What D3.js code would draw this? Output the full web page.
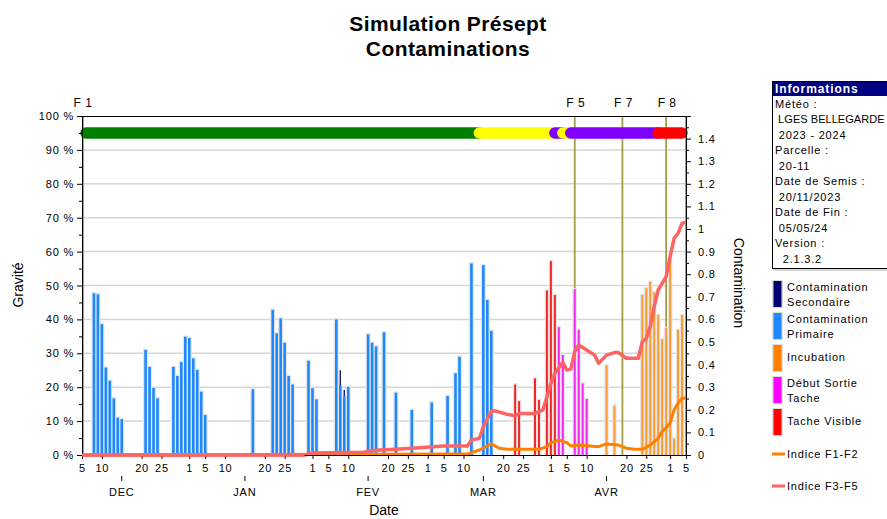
<!DOCTYPE html>
<html><head><meta charset="utf-8">
<script src="https://cdn.jsdelivr.net/npm/d3@7"></script>
<style>
body{margin:0;background:#fff;}
svg{display:block;font-family:"Liberation Sans",Arial,sans-serif;}
</style>
</head><body>
<svg id="c" width="887" height="519"></svg>
<script>
// ---------------- DATA ----------------
const titleLines = ["Simulation Présept", "Contaminations"];
const yLeftTitle = "Gravité", yRightTitle = "Contamination", xTitle = "Date";

// Contamination Primaire (%)
const primDates = ["2023-12-08","2023-12-09","2023-12-10","2023-12-11","2023-12-12","2023-12-13","2023-12-14","2023-12-15",
  "2023-12-21","2023-12-22","2023-12-23","2023-12-24","2023-12-28","2023-12-29","2023-12-30","2023-12-31",
  "2024-01-01","2024-01-02","2024-01-03","2024-01-04","2024-01-05","2024-01-17","2024-01-22","2024-01-23",
  "2024-01-24","2024-01-25","2024-01-26","2024-01-27","2024-01-31","2024-02-01","2024-02-02","2024-02-07",
  "2024-02-08","2024-02-09","2024-02-10","2024-02-15","2024-02-16","2024-02-17","2024-02-19","2024-02-22",
  "2024-02-26","2024-03-02","2024-03-06","2024-03-08","2024-03-09","2024-03-12","2024-03-15","2024-03-16","2024-03-17"];
const primValues = [47.7,47.4,38.6,25.8,21.9,16.7,11.0,10.6,
  31.0,26.0,19.8,16.7,26.0,23.3,27.4,34.9,
  34.5,28.5,25.1,18.7,11.8,19.4,42.8,35.9,
  40.3,33.1,23.3,20.8,27.8,19.7,16.4,40.0,
  20.4,17.2,20.1,35.6,33.1,32.0,36.2,18.4,
  13.3,15.5,17.4,24.1,29.0,56.5,56.0,45.7,36.6];
// Contamination Secondaire (%), stacked on primaire
const secDates = ["2024-02-08","2024-02-09"];
const secValues = [4.6, 2.0];
// Tache Visible (%)
const visDates = ["2024-03-23","2024-03-24","2024-03-28","2024-03-29","2024-03-31","2024-04-01","2024-04-02"];
const visValues = [20.8,15.9,22.6,16.2,48.5,57.2,47.2];
// Début Sortie Tache (%)
const dstDates = ["2024-04-03","2024-04-04","2024-04-07","2024-04-08","2024-04-09","2024-04-10"];
const dstValues = [37.7,29.5,48.9,36.9,21.1,16.5];
// Incubation (%)
const incDates = ["2024-04-15","2024-04-17","2024-04-24","2024-04-25","2024-04-26","2024-04-27","2024-04-28",
  "2024-04-29","2024-04-30","2024-05-01","2024-05-02","2024-05-03","2024-05-04"];
const incValues = [26.5,14.5,47.2,49.2,51.1,48.0,41.3,34.1,37.5,57.5,4.9,36.9,41.3];

// Indice F1-F2 (right axis)
const f12Dates = ["2023-12-05","2024-03-11","2024-03-12","2024-03-14","2024-03-17","2024-03-19","2024-03-21","2024-03-29",
  "2024-03-31","2024-04-01","2024-04-03","2024-04-05","2024-04-06","2024-04-08","2024-04-13","2024-04-15","2024-04-18",
  "2024-04-20","2024-04-22","2024-04-24","2024-04-26","2024-04-28","2024-04-29","2024-05-01","2024-05-02","2024-05-03",
  "2024-05-04","2024-05-05"];
const f12Values = [0,0.004,0.01,0.022,0.049,0.03,0.025,0.025,
  0.037,0.054,0.066,0.055,0.04,0.044,0.037,0.049,0.044,
  0.03,0.025,0.025,0.044,0.074,0.103,0.14,0.2,0.229,
  0.251,0.251];
// Indice F3-F5 (right axis)
const f35Dates = ["2023-12-05","2024-01-30","2024-02-01","2024-02-14","2024-02-16","2024-02-26","2024-03-05","2024-03-11",
  "2024-03-12","2024-03-14","2024-03-15","2024-03-17","2024-03-18","2024-03-21","2024-03-23","2024-03-24","2024-03-28",
  "2024-03-30","2024-03-31","2024-04-01","2024-04-02","2024-04-04","2024-04-05","2024-04-06","2024-04-07","2024-04-08",
  "2024-04-10","2024-04-12","2024-04-13","2024-04-15","2024-04-17","2024-04-18","2024-04-20","2024-04-23","2024-04-24",
  "2024-04-25","2024-04-26","2024-04-27","2024-04-28","2024-04-30","2024-05-01","2024-05-02","2024-05-03","2024-05-04","2024-05-05"];
const f35Values = [0,0,0.009,0.012,0.02,0.03,0.04,0.04,
  0.066,0.074,0.125,0.195,0.195,0.18,0.174,0.184,0.184,
  0.2,0.258,0.317,0.361,0.41,0.376,0.38,0.457,0.487,
  0.465,0.442,0.406,0.442,0.453,0.453,0.428,0.428,0.501,
  0.516,0.568,0.656,0.73,0.789,0.877,0.959,0.981,1.025,1.03];

// Phase band
const phaseStarts = ["2023-12-06","2024-03-14","2024-04-02","2024-04-04","2024-04-06","2024-04-28"];
const phaseEnds   = ["2024-03-14","2024-04-02","2024-04-04","2024-04-06","2024-04-28","2024-05-04"];
const phaseColors = ["#008000","#ffff00","#8000ff","#ffff00","#8000ff","#ff0000"];
const phaseLevel = 95;

// Stages
const stageNames = ["F 1","F 5","F 7","F 8",""];
const stageDates = ["2023-12-05","2024-04-07","2024-04-19","2024-04-30","2024-05-05"];

// Axes
const xStart = "2023-12-05", xEnd = "2024-05-05";
const tickDays = [1,5,10,20,25];
const monthLabels = ["DEC","JAN","FEV","MAR","AVR"];
const monthMid = ["2023-12-15","2024-01-15","2024-02-15","2024-03-15","2024-04-15"];
const leftTicks = [0,10,20,30,40,50,60,70,80,90,100];
const rightTicks = [0,0.1,0.2,0.3,0.4,0.5,0.6,0.7,0.8,0.9,1,1.1,1.2,1.3,1.4];

// Info panel
const infoTitle = "Informations";
const infoLines = ["Météo :"," LGES BELLEGARDE"," 2023 - 2024","Parcelle :"," 20-11","Date de Semis :"," 20/11/2023","Date de Fin :"," 05/05/24","Version :","  2.1.3.2"];
// Legend
const legendBarLabels = [["Contamination","Secondaire"],["Contamination","Primaire"],["Incubation"],["Début Sortie","Tache"],["Tache Visible"]];
const legendBarColors = ["#000070","#1e88ff","#ff8000","#ff00ff","#ff0000"];
const legendLineLabels = ["Indice F1-F2","Indice F3-F5"];
const legendLineColors = ["#ff8000","#ff6464"];

// ---------------- DRAW ----------------
const parse = d3.utcParse("%Y-%m-%d");
const svg = d3.select("#c");
const L = 82, R = 686, T = 116, B = 455;
const x = d3.scaleUtc().domain([parse(xStart), parse(xEnd)]).range([L, R]);
const yL = d3.scaleLinear().domain([0,100]).range([B, T]);
const yR = d3.scaleLinear().domain([0,1.5]).range([B, T]);
const olive = "#a39d48";
const fs = "11px", ls = "0.8px";

// Title
svg.selectAll("text.title").data(titleLines).join("text")
  .attr("x", 448).attr("y", (d,i)=>31+i*25).attr("text-anchor","middle")
  .attr("font-size","21px").attr("font-weight","bold").style("letter-spacing","0.4px").text(d=>d);

// gridlines
svg.append("g").selectAll("line").data(leftTicks.filter(v=>v>0 && v<100)).join("line")
  .attr("x1",L).attr("x2",R).attr("y1",d=>yL(d)).attr("y2",d=>yL(d))
  .attr("stroke","#d6d6d6").attr("stroke-width",1.5);

// stage lines
const stages = stageDates.map((d,i)=>({date:parse(d), name:stageNames[i]}));
svg.append("g").selectAll("line").data(stages).join("line")
  .attr("x1",d=>x(d.date)+(d.name==="F 1"?1:0)).attr("x2",d=>x(d.date)+(d.name==="F 1"?1:0))
  .attr("y1",T).attr("y2",B).attr("stroke",olive).attr("stroke-width",1.8);
svg.append("g").selectAll("text").data(stages.filter(s=>s.name)).join("text")
  .attr("x",d=>x(d.date)+1).attr("y",107).attr("text-anchor","middle")
  .attr("font-size","12px").style("letter-spacing","0.5px").text(d=>d.name);

// bars
const bars = [];
primDates.forEach((d,i)=>bars.push({date:parse(d), v0:0, v1:primValues[i], color:"#1e88ff", w:2.6}));
secDates.forEach((d,i)=>{
  const base = primValues[primDates.indexOf(d)];
  bars.push({date:parse(d), v0:base, v1:base+secValues[i], color:"#1a1a80", w:1.4});
});
visDates.forEach((d,i)=>bars.push({date:parse(d), v0:0, v1:visValues[i], color:"#f02828", w:2}));
dstDates.forEach((d,i)=>bars.push({date:parse(d), v0:0, v1:dstValues[i], color:"#f028f0", w:2}));
incDates.forEach((d,i)=>bars.push({date:parse(d), v0:0, v1:incValues[i], color:"#ff9a30", w:2}));

const gb = svg.append("g");
gb.selectAll("rect.halo").data(bars.filter(b=>b.v0===0)).join("rect").attr("class","halo")
  .attr("x",d=>x(d.date)-d.w/2-1.3).attr("width",d=>d.w+2.6)
  .attr("y",d=>yL(d.v1)-1.3).attr("height",d=>yL(d.v0)-yL(d.v1)+1.3)
  .attr("fill","#e6e6e6");
gb.selectAll("rect.bar").data(bars).join("rect").attr("class","bar")
  .attr("x",d=>x(d.date)-d.w/2).attr("width",d=>d.w)
  .attr("y",d=>yL(d.v1)).attr("height",d=>yL(d.v0)-yL(d.v1))
  .attr("fill",d=>d.color);

// index lines
const line = d3.line().x(d=>x(d.date)).y(d=>yR(d.v));
const f12 = f12Dates.map((d,i)=>({date:parse(d), v:f12Values[i]}));
const f35 = f35Dates.map((d,i)=>({date:parse(d), v:f35Values[i]}));
svg.append("path").datum(f12).attr("d",line).attr("fill","none")
  .attr("stroke","#ff8000").attr("stroke-width",3).attr("stroke-linejoin","round");
svg.append("path").datum(f35).attr("d",line).attr("fill","none")
  .attr("stroke","#ff6464").attr("stroke-width",3.5).attr("stroke-linejoin","round");

// phase band
const phases = phaseStarts.map((s,i)=>({s:parse(s), e:parse(phaseEnds[i]), c:phaseColors[i]}));
svg.append("g").selectAll("line").data(phases).join("line")
  .attr("x1",d=>x(d.s)).attr("x2",d=>x(d.e)).attr("y1",yL(phaseLevel)).attr("y2",yL(phaseLevel))
  .attr("stroke",d=>d.c).attr("stroke-width",11.5).attr("stroke-linecap","round");

// top border
svg.append("line").attr("x1",L).attr("x2",R).attr("y1",T+0.5).attr("y2",T+0.5).attr("stroke","#000");

// left axis
const axL = svg.append("g").attr("transform",`translate(${L},0)`)
  .call(d3.axisLeft(yL).tickValues(leftTicks).tickSize(5).tickPadding(3).tickFormat(d=>d+" %"));
svg.append("g").attr("transform",`translate(${L},0)`)
  .call(d3.axisLeft(yL).tickValues(d3.range(5,100,10)).tickSize(3).tickFormat(""))
  .select(".domain").remove();
// right axis
const axR = svg.append("g").attr("transform",`translate(${R},0)`)
  .call(d3.axisRight(yR).tickValues(rightTicks).tickSize(5).tickPadding(7).tickFormat(d=>d3.format("~g")(+d.toFixed(1))));
svg.append("g").attr("transform",`translate(${R},0)`)
  .call(d3.axisRight(yR).tickValues(d3.range(0.05,1.5,0.1)).tickSize(3).tickFormat(""))
  .select(".domain").remove();
// bottom axis
const xTickDates = [];
d3.utcMonths(d3.utcMonth.floor(parse(xStart)), d3.utcDay.offset(parse(xEnd),1)).forEach(m=>{
  tickDays.forEach(dd=>{
    const t = new Date(Date.UTC(m.getUTCFullYear(), m.getUTCMonth(), dd));
    if (t >= parse(xStart) && t <= parse(xEnd)) xTickDates.push(t);
  });
});
const axB = svg.append("g").attr("transform",`translate(0,${B})`)
  .call(d3.axisBottom(x).tickValues(xTickDates).tickSize(4).tickPadding(5).tickFormat(d3.utcFormat("%-d")));
[axL, axR, axB].forEach(a=>{
  a.selectAll("text").attr("font-size",fs).attr("font-family",null).style("letter-spacing",ls).attr("fill","#000");
  a.select(".domain").attr("stroke","#000");
  a.selectAll(".tick line").attr("stroke","#000");
  a.attr("font-family",null);
});
// zero baseline of F3-F5 over the axis
svg.append("path").datum(f35.filter(d=>d.v===0)).attr("d",line).attr("fill","none")
  .attr("stroke","#ff6464").attr("stroke-width",3);

// month labels
const months = monthMid.map((d,i)=>({date:parse(d), name:monthLabels[i]}));
const gm = svg.append("g");
gm.selectAll("line").data(months).join("line")
  .attr("x1",d=>x(d.date)).attr("x2",d=>x(d.date)).attr("y1",476).attr("y2",481).attr("stroke","#000");
gm.selectAll("text").data(months).join("text")
  .attr("x",d=>x(d.date)).attr("y",496).attr("text-anchor","middle")
  .attr("font-size",fs).style("letter-spacing",ls).text(d=>d.name);

// axis titles
svg.append("text").attr("transform","translate(23,285) rotate(-90)").attr("text-anchor","middle")
  .attr("font-size","14px").text(yLeftTitle);
svg.append("text").attr("transform","translate(734,283) rotate(90)").attr("text-anchor","middle")
  .attr("font-size","14px").text(yRightTitle);
svg.append("text").attr("x",(L+R)/2).attr("y",515).attr("text-anchor","middle")
  .attr("font-size","14px").text(xTitle);

// info panel
const gi = svg.append("g");
gi.append("rect").attr("x",772.5).attr("y",81.5).attr("width",130).attr("height",187)
  .attr("fill","#fff").attr("stroke","#000");
gi.append("line").attr("x1",773).attr("x2",887).attr("y1",270).attr("y2",270).attr("stroke","#b0b0b0");
gi.append("rect").attr("x",773).attr("y",82).attr("width",130).attr("height",14).attr("fill","#000080");
gi.append("text").attr("x",775).attr("y",93).attr("fill","#fff").attr("font-weight","bold")
  .attr("font-size","12px").style("letter-spacing","0.9px").text(infoTitle);
gi.selectAll("text.info").data(infoLines).join("text").attr("class","info")
  .attr("x",775).attr("y",(d,i)=>108+i*15.47).attr("font-size",fs)
  .attr("xml:space","preserve").style("white-space","pre")
  .style("letter-spacing",(d,i)=>i===1?"0.05px":ls).text(d=>d);

// legend
const gl = svg.append("g");
const lb = gl.selectAll("g.lb").data(legendBarLabels).join("g").attr("class","lb")
  .attr("transform",(d,i)=>`translate(0,${281+i*32})`);
lb.append("rect").attr("x",772).attr("y",-1).attr("width",11).attr("height",28).attr("fill","#dcdcdc");
lb.append("rect").attr("x",773.5).attr("y",0).attr("width",8).attr("height",26).attr("fill",(d,i)=>legendBarColors[i]);
lb.each(function(d){
  const g = d3.select(this);
  d.forEach((t,j)=>{
    g.append("text").attr("x",787).attr("y", d.length===1 ? 16 : 9.5+j*15.5)
      .attr("font-size",fs).style("letter-spacing",ls).text(t);
  });
});
const ll = gl.selectAll("g.ll").data(legendLineLabels).join("g").attr("class","ll")
  .attr("transform",(d,i)=>`translate(0,${454+i*32})`);
ll.append("line").attr("x1",772).attr("x2",785).attr("y1",0).attr("y2",0)
  .attr("stroke",(d,i)=>legendLineColors[i]).attr("stroke-width",3);
ll.append("text").attr("x",787).attr("y",4).attr("font-size",fs).style("letter-spacing",ls).text(d=>d);
</script>
</body></html>
